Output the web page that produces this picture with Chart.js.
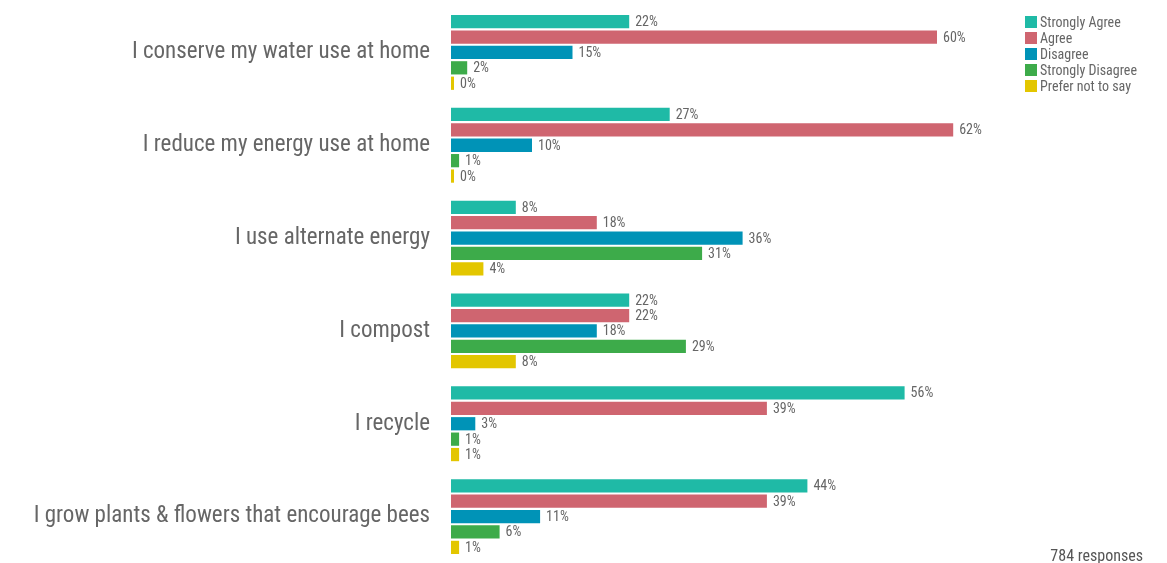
<!DOCTYPE html>
<html lang="en">
<head>
<meta charset="UTF-8">
<title>Environmental habits</title>
<script src="https://cdn.jsdelivr.net/npm/chart.js"></script>
<style>
    body {
        margin: 0;
        background: #fff;
        font-family: "Roboto Condensed", "DejaVu Sans Condensed", sans-serif;
        color: #666;
    }
    #wrap {
        position: relative;
        width: 1167px;
        height: 563px;
    }
    .legend {
        position: absolute;
        left: 1025px;
        top: 14px;
        font-size: 14px;
    }
    .legend-item {
        height: 16px;
        line-height: 16px;
        white-space: nowrap;
    }
    .color-box {
        display: inline-block;
        width: 12px;
        height: 12px;
        margin-right: 3px;
        vertical-align: -1px;
    }
    .responses {
        position: absolute;
        right: 24px;
        bottom: -2px;
        font-size: 16px;
        color: #555;
    }
</style>
</head>
<body>
<div id="wrap">
    <canvas id="chart" width="1167" height="563"></canvas>
    <div class="legend" id="legend"></div>
    <div class="responses">784 responses</div>
</div>
<script>
    const categories = [
        "I conserve my water use at home",
        "I reduce my energy use at home",
        "I use alternate energy",
        "I compost",
        "I recycle",
        "I grow plants & flowers that encourage bees"
    ];
    const seriesNames = ["Strongly Agree", "Agree", "Disagree", "Strongly Disagree", "Prefer not to say"];
    const stronglyAgree = [22, 27, 8, 22, 56, 44];
    const agree = [60, 62, 18, 22, 39, 39];
    const disagree = [15, 10, 36, 18, 3, 11];
    const stronglyDisagree = [2, 1, 31, 29, 1, 6];
    const preferNot = [0, 0, 4, 8, 1, 1];
    const colors = ['#1fbaa6', '#cf6570', '#0093b7', '#3dab4a', '#e3c600'];

    const allSeries = [stronglyAgree, agree, disagree, stronglyDisagree, preferNot];
    const fontFamily = '"Roboto Condensed", "DejaVu Sans Condensed", sans-serif';

    // value labels at the end of each bar
    const valueLabels = {
        id: 'valueLabels',
        afterDatasetsDraw(chart) {
            const ctx = chart.ctx;
            ctx.save();
            ctx.font = '14px ' + fontFamily;
            ctx.fillStyle = '#666';
            ctx.textBaseline = 'middle';
            chart.data.datasets.forEach((ds, i) => {
                chart.getDatasetMeta(i).data.forEach((bar, j) => {
                    ctx.fillText(ds.data[j] + '%', bar.x + 6, bar.y + 1);
                });
            });
            ctx.restore();
        }
    };

    new Chart(document.getElementById('chart'), {
        type: 'bar',
        data: {
            labels: categories,
            datasets: seriesNames.map((name, i) => ({
                label: name,
                data: allSeries[i],
                backgroundColor: colors[i],
                categoryPercentage: 0.83,
                barPercentage: 0.86,
                minBarLength: 3
            }))
        },
        options: {
            indexAxis: 'y',
            responsive: false,
            animation: false,
            layout: { padding: { top: 6, right: 149, bottom: -5, left: 0 } },
            plugins: {
                legend: { display: false },
                tooltip: { enabled: false }
            },
            scales: {
                x: {
                    display: false,
                    min: 0,
                    max: 70
                },
                y: {
                    grid: { display: false, drawTicks: false },
                    border: { display: false },
                    ticks: {
                        padding: 21,
                        color: '#666',
                        font: { family: fontFamily, size: 23 }
                    },
                    afterFit(scale) {
                        scale.width = 451;
                        scale.paddingTop = 0;
                        scale.paddingBottom = 0;
                    }
                }
            }
        },
        plugins: [valueLabels]
    });

    const legend = document.getElementById('legend');
    seriesNames.forEach((name, i) => {
        const item = document.createElement('div');
        item.className = 'legend-item';
        item.innerHTML = `<span class="color-box" style="background:${colors[i]}"></span>${name}`;
        legend.appendChild(item);
    });
</script>
</body>
</html>
